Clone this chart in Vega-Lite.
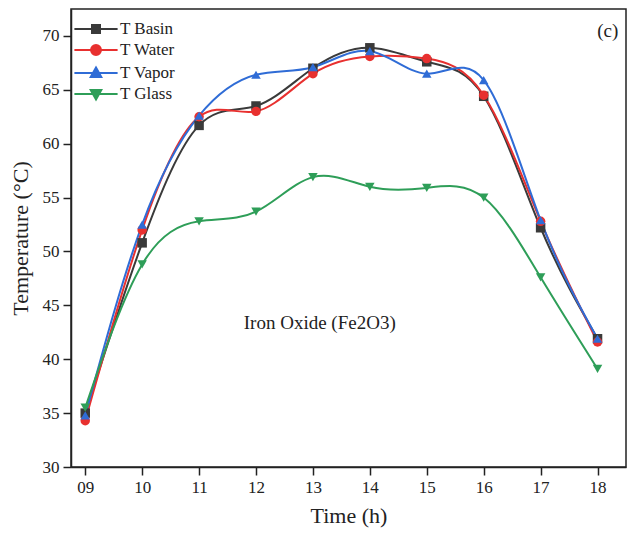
{
  "$schema": "https://vega.github.io/schema/vega-lite/v6.json",
  "width": 555,
  "height": 458,
  "autosize": "none",
  "padding": {"left": 71, "top": 9, "right": 2, "bottom": 75},
  "background": "white",
  "config": {
    "font": "Liberation Serif",
    "view": {"stroke": "#222", "strokeWidth": 1.5},
    "axis": {"domainColor": "#222", "domainWidth": 1.5, "tickColor": "#222", "tickWidth": 1.5, "labelColor": "#222", "titleColor": "#222", "labelFont": "Liberation Serif", "titleFont": "Liberation Serif", "labelFontSize": 17, "titleFontSize": 22, "titleFontWeight": "normal", "grid": false},
    "legend": {"labelFont": "Liberation Serif", "labelFontSize": 17, "labelColor": "#222"}
  },
  "datasets": {
    "temps": [
      {"time": 9, "series": "T Basin", "temp": 35.0},
      {"time": 10, "series": "T Basin", "temp": 50.8},
      {"time": 11, "series": "T Basin", "temp": 61.7},
      {"time": 12, "series": "T Basin", "temp": 63.5},
      {"time": 13, "series": "T Basin", "temp": 67.0},
      {"time": 14, "series": "T Basin", "temp": 68.9},
      {"time": 15, "series": "T Basin", "temp": 67.6},
      {"time": 16, "series": "T Basin", "temp": 64.4},
      {"time": 17, "series": "T Basin", "temp": 52.2},
      {"time": 18, "series": "T Basin", "temp": 41.9},
      {"time": 9, "series": "T Water", "temp": 34.3},
      {"time": 10, "series": "T Water", "temp": 52.0},
      {"time": 11, "series": "T Water", "temp": 62.5},
      {"time": 12, "series": "T Water", "temp": 63.0},
      {"time": 13, "series": "T Water", "temp": 66.5},
      {"time": 14, "series": "T Water", "temp": 68.1},
      {"time": 15, "series": "T Water", "temp": 67.9},
      {"time": 16, "series": "T Water", "temp": 64.5},
      {"time": 17, "series": "T Water", "temp": 52.8},
      {"time": 18, "series": "T Water", "temp": 41.6},
      {"time": 9, "series": "T Vapor", "temp": 34.8},
      {"time": 10, "series": "T Vapor", "temp": 52.5},
      {"time": 11, "series": "T Vapor", "temp": 62.6},
      {"time": 12, "series": "T Vapor", "temp": 66.4},
      {"time": 13, "series": "T Vapor", "temp": 67.1},
      {"time": 14, "series": "T Vapor", "temp": 68.6},
      {"time": 15, "series": "T Vapor", "temp": 66.5},
      {"time": 16, "series": "T Vapor", "temp": 65.9},
      {"time": 17, "series": "T Vapor", "temp": 52.9},
      {"time": 18, "series": "T Vapor", "temp": 41.9},
      {"time": 9, "series": "T Glass", "temp": 35.5},
      {"time": 10, "series": "T Glass", "temp": 48.8},
      {"time": 11, "series": "T Glass", "temp": 52.8},
      {"time": 12, "series": "T Glass", "temp": 53.7},
      {"time": 13, "series": "T Glass", "temp": 56.9},
      {"time": 14, "series": "T Glass", "temp": 56.0},
      {"time": 15, "series": "T Glass", "temp": 55.9},
      {"time": 16, "series": "T Glass", "temp": 55.0},
      {"time": 17, "series": "T Glass", "temp": 47.6},
      {"time": 18, "series": "T Glass", "temp": 39.1}
    ],
    "notes": [
      {"x": 13.12, "y": 43.4, "label": "Iron Oxide (Fe2O3)", "kind": "a"},
      {"x": 18.18, "y": 70.5, "label": "(c)", "kind": "b"}
    ]
  },
  "layer": [
    {
      "data": {"name": "temps"},
      "mark": {"type": "line", "interpolate": "natural", "strokeWidth": 2},
      "encoding": {
        "x": {"field": "time", "type": "quantitative", "scale": {"domain": [8.75, 18.5], "nice": false, "zero": false},
          "axis": {"title": "Time (h)", "values": [9, 9.5, 10, 10.5, 11, 11.5, 12, 12.5, 13, 13.5, 14, 14.5, 15, 15.5, 16, 16.5, 17, 17.5, 18, 18.5],
            "labelExpr": "datum.value % 1 ? '' : (datum.value < 10 ? '0' + datum.value : '' + datum.value)",
            "tickSize": {"condition": {"test": "datum.value % 1 === 0", "value": 8}, "value": 4},
            "labelPadding": 4, "titlePadding": 10, "labelFlush": false, "labelOverlap": false}},
        "y": {"field": "temp", "type": "quantitative", "scale": {"domain": [30, 72.5], "nice": false, "zero": false},
          "axis": {"title": "Temperature (°C)", "values": [30, 32.5, 35, 37.5, 40, 42.5, 45, 47.5, 50, 52.5, 55, 57.5, 60, 62.5, 65, 67.5, 70, 72.5],
            "labelExpr": "datum.value % 5 ? '' : '' + datum.value",
            "tickSize": {"condition": {"test": "datum.value % 5 === 0", "value": 8}, "value": 4},
            "labelPadding": 4, "titlePadding": 10, "labelFlush": false, "labelOverlap": false}},
        "color": {"field": "series", "type": "nominal",
          "scale": {"domain": ["T Basin", "T Water", "T Vapor", "T Glass"], "range": ["#3a3a3a", "#e8302f", "#2f6cd6", "#2e9e58"]}},
        "order": {"field": "time"}
      }
    },
    {
      "data": {"name": "temps"},
      "mark": {"type": "point", "filled": true, "opacity": 1, "size": 90},
      "encoding": {
        "x": {"field": "time", "type": "quantitative"},
        "y": {"field": "temp", "type": "quantitative"},
        "color": {"field": "series", "type": "nominal",
          "legend": {"title": null, "orient": "none", "legendX": 16, "legendY": 11, "symbolSize": 256, "labelOffset": 15, "rowPadding": 4,
            "encoding": {"symbols": {
              "shape": {"value": {"expr": "datum.value === 'T Basin' ? 'M-2.7,0H2.7M-0.5,-0.5H0.5V0.5H-0.5Z' : datum.value === 'T Water' ? 'M-2.7,0H2.7M-0.62,0A0.62,0.62 0 1,1 0.62,0A0.62,0.62 0 1,1 -0.62,0Z' : datum.value === 'T Vapor' ? 'M-2.7,0H2.7M0,-0.68L0.66,0.5L-0.66,0.5Z' : 'M-2.7,0H2.7M0,0.68L0.66,-0.5L-0.66,-0.5Z'"}},
              "strokeWidth": {"value": 2},
              "stroke": {"value": {"expr": "scale('color', datum.value)"}},
              "opacity": {"value": 1}
            }}}},
        "shape": {"field": "series", "type": "nominal", "legend": null,
          "scale": {"domain": ["T Glass", "T Basin", "T Water", "T Vapor"], "range": ["triangle-down", "square", "circle", "triangle-up"]}}
      }
    },
    {
      "data": {"name": "notes"},
      "mark": {"type": "text", "font": "Liberation Serif", "color": "#222", "align": "center", "baseline": "middle"},
      "encoding": {
        "x": {"field": "x", "type": "quantitative"},
        "y": {"field": "y", "type": "quantitative"},
        "text": {"field": "label"},
        "size": {"field": "kind", "type": "nominal", "scale": {"domain": ["a", "b"], "range": [19, 19]}, "legend": null}
      }
    }
  ]
}
